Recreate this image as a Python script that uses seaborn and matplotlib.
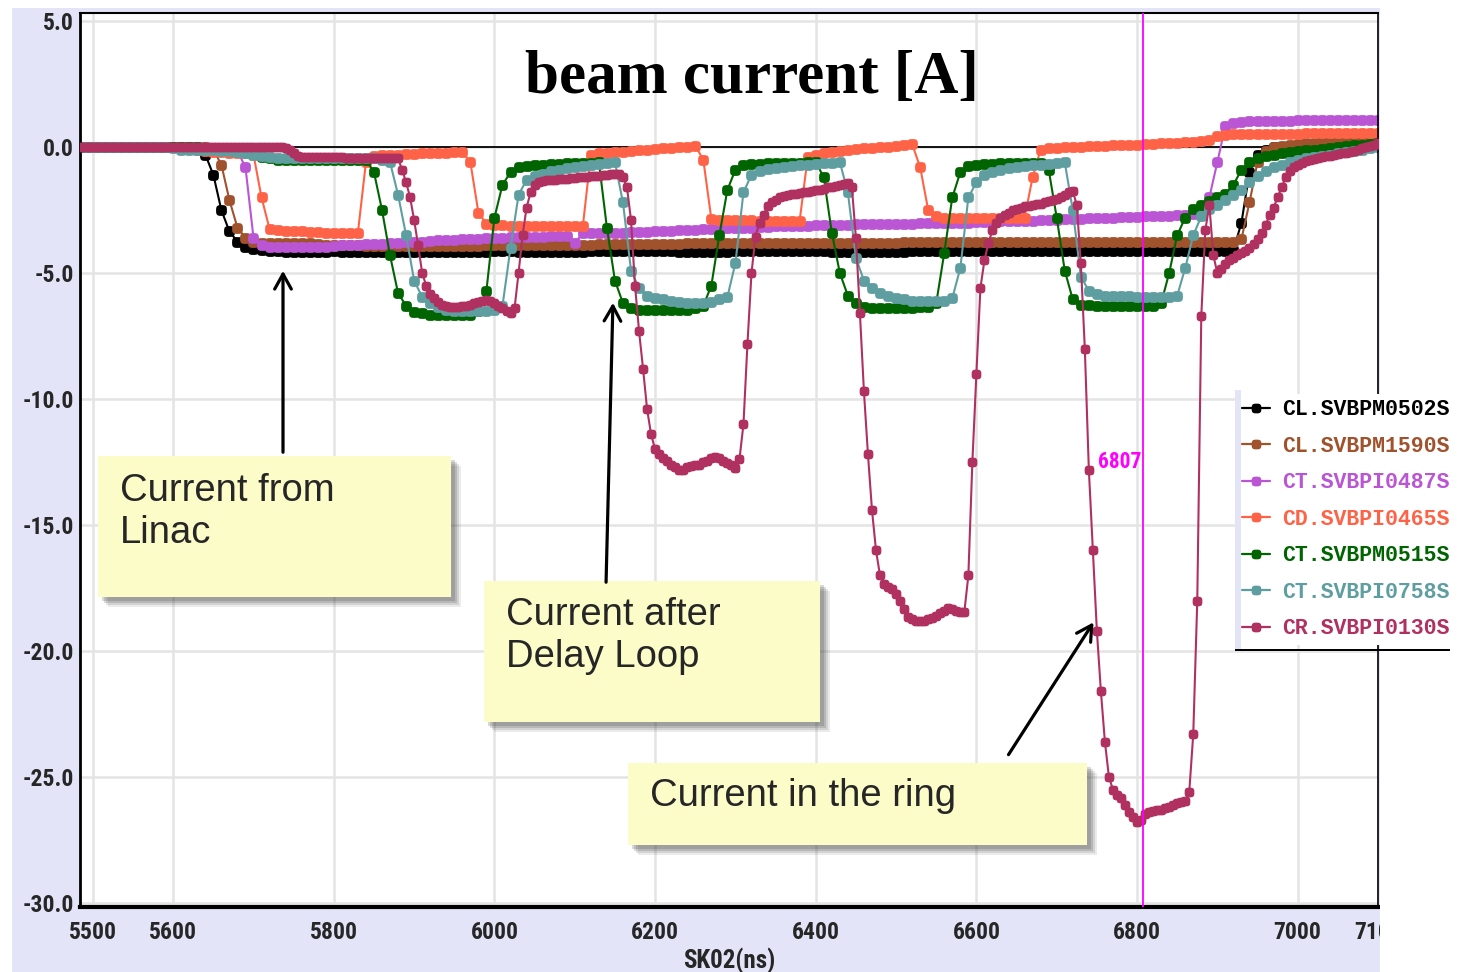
import numpy as np
import matplotlib
matplotlib.use("Agg")
import matplotlib.pyplot as plt
import seaborn as sns
from matplotlib.patches import Rectangle, FancyArrowPatch
from matplotlib.lines import Line2D
from matplotlib.path import Path
from matplotlib.ticker import FormatStrFormatter
from matplotlib.font_manager import FontProperties

# ---------------- data ----------------
t10 = np.arange(5480, 7101, 10)   # sample times (ns) for most monitors
t5 = np.arange(5480, 7101, 5)     # sample times (ns) for the ring monitor

labels = ["CL.SVBPM0502S", "CL.SVBPM1590S", "CT.SVBPI0487S", "CD.SVBPI0465S",
          "CT.SVBPM0515S", "CT.SVBPI0758S", "CR.SVBPI0130S"]
colors = ["#000000", "#a0522d", "#ba55d3", "#ff6347", "#006400", "#5f9ea0", "#b03060"]

cl_0502 = [
    0, 0, 0, 0, 0, 0, 0, 0, 0, 0,
    0, 0, 0, 0, 0, -0.05, -0.3, -1.1, -2.5, -3.35,
    -3.75, -3.98, -4.05, -4.1, -4.12, -4.12, -4.15, -4.15, -4.15, -4.15,
    -4.15, -4.15, -4.14, -4.15, -4.17, -4.15, -4.15, -4.15, -4.15, -4.17,
    -4.17, -4.15, -4.15, -4.15, -4.15, -4.15, -4.15, -4.15, -4.15, -4.15,
    -4.15, -4.15, -4.13, -4.13, -4.13, -4.15, -4.15, -4.15, -4.15, -4.15,
    -4.15, -4.15, -4.15, -4.15, -4.13, -4.13, -4.13, -4.13, -4.13, -4.13,
    -4.13, -4.13, -4.13, -4.13, -4.13, -4.15, -4.15, -4.15, -4.15, -4.15,
    -4.15, -4.15, -4.13, -4.12, -4.12, -4.12, -4.12, -4.12, -4.12, -4.12,
    -4.12, -4.12, -4.12, -4.12, -4.15, -4.15, -4.15, -4.15, -4.15, -4.15,
    -4.15, -4.15, -4.15, -4.15, -4.13, -4.13, -4.13, -4.13, -4.13, -4.13,
    -4.13, -4.13, -4.13, -4.12, -4.12, -4.12, -4.12, -4.12, -4.12, -4.12,
    -4.12, -4.12, -4.12, -4.12, -4.12, -4.12, -4.12, -4.12, -4.12, -4.12,
    -4.12, -4.12, -4.12, -4.12, -4.12, -4.12, -4.12, -4.12, -4.12, -4.12,
    -4.12, -4.12, -4.12, -4.12, -4.1, -3.0, -1.0, -0.3, -0.1, 0.0,
    0.0, 0.0, 0.02, 0.02, 0.03, 0.03, 0.05, 0.05, 0.05, 0.05,
    0.05, 0.05, 0.05]

cl_1590 = [
    0, 0, 0, 0, 0, 0, 0, 0, 0, 0,
    0, 0, 0, 0, 0, 0, 0, -0.1, -0.7, -2.1,
    -3.2, -3.6, -3.75, -3.8, -3.82, -3.82, -3.82, -3.82, -3.82, -3.82,
    -3.85, -3.88, -3.9, -3.9, -3.9, -3.9, -3.92, -3.92, -3.92, -3.92,
    -3.92, -3.92, -3.92, -3.92, -3.92, -3.92, -3.92, -3.92, -3.92, -3.92,
    -3.92, -3.9, -3.9, -3.9, -3.9, -3.9, -3.9, -3.9, -3.9, -3.9,
    -3.88, -3.88, -3.88, -3.87, -3.87, -3.86, -3.86, -3.85, -3.85, -3.85,
    -3.85, -3.85, -3.84, -3.84, -3.83, -3.83, -3.82, -3.82, -3.82, -3.82,
    -3.82, -3.8, -3.8, -3.8, -3.8, -3.8, -3.8, -3.8, -3.8, -3.8,
    -3.8, -3.8, -3.8, -3.8, -3.8, -3.8, -3.8, -3.8, -3.8, -3.8,
    -3.8, -3.8, -3.8, -3.78, -3.78, -3.78, -3.78, -3.78, -3.78, -3.78,
    -3.78, -3.78, -3.78, -3.78, -3.78, -3.78, -3.78, -3.78, -3.78, -3.78,
    -3.78, -3.78, -3.78, -3.78, -3.78, -3.78, -3.78, -3.78, -3.78, -3.78,
    -3.78, -3.78, -3.78, -3.78, -3.78, -3.78, -3.78, -3.78, -3.78, -3.78,
    -3.78, -3.78, -3.78, -3.78, -3.78, -3.65, -2.2, -0.6, -0.15, 0.0,
    0.05, 0.1, 0.12, 0.15, 0.18, 0.2, 0.22, 0.24, 0.25, 0.27,
    0.28, 0.3, 0.3]

ct_0487 = [
    0, 0, 0, 0, 0, 0, 0, 0, 0, 0,
    0, 0, 0, 0, 0, 0, -0.05, -0.05, -0.05, -0.1,
    -0.15, -0.8, -3.6, -3.9, -3.95, -3.97, -3.97, -3.97, -3.95, -3.95,
    -3.95, -3.95, -3.93, -3.9, -3.9, -3.88, -3.85, -3.85, -3.83, -3.82,
    -3.8, -3.78, -3.75, -3.75, -3.73, -3.7, -3.7, -3.68, -3.66, -3.65,
    -3.64, -3.62, -3.6, -3.6, -3.58, -3.58, -3.56, -3.55, -3.55, -3.53,
    -3.53, -3.52, -3.8, -3.42, -3.42, -3.42, -3.41, -3.4, -3.4, -3.38,
    -3.38, -3.37, -3.35, -3.33, -3.33, -3.3, -3.3, -3.28, -3.27, -3.25,
    -3.25, -3.23, -3.22, -3.2, -3.2, -3.18, -3.17, -3.15, -3.15, -3.13,
    -3.12, -3.12, -3.1, -3.1, -3.1, -3.08, -3.08, -3.07, -3.07, -3.06,
    -3.05, -3.05, -3.05, -3.05, -3.04, -3.03, -3.03, -3.02, -3.02, -3.0,
    -3.0, -3.0, -2.98, -2.97, -2.96, -2.95, -2.95, -2.94, -2.93, -2.92,
    -2.9, -2.9, -2.88, -2.86, -2.85, -2.84, -2.83, -2.82, -2.8, -2.8,
    -2.78, -2.77, -2.76, -2.75, -2.74, -2.73, -2.72, -2.7, -2.68, -2.67,
    -2.65, -2.0, -0.6, 0.85, 0.95, 1.0, 1.02, 1.03, 1.05, 1.05,
    1.05, 1.05, 1.07, 1.07, 1.08, 1.08, 1.08, 1.08, 1.08, 1.08,
    1.08, 1.08, 1.08]

cd_0465 = [
    0, 0, 0, 0, 0, 0, 0, 0, 0, 0,
    0, 0, 0, 0, -0.05, -0.1, -0.15, -0.2, -0.2, -0.25,
    -0.25, -0.25, -0.3, -2.0, -3.25, -3.3, -3.35, -3.35, -3.35, -3.38,
    -3.38, -3.4, -3.4, -3.4, -3.4, -3.4, -0.6, -0.35, -0.32, -0.3,
    -0.3, -0.28, -0.27, -0.25, -0.25, -0.23, -0.22, -0.2, -0.2, -0.6,
    -2.6, -3.05, -3.1, -3.1, -3.12, -3.12, -3.12, -3.15, -3.15, -3.15,
    -3.15, -3.15, -3.15, -3.15, -0.3, -0.25, -0.22, -0.2, -0.18, -0.15,
    -0.12, -0.1, -0.08, -0.05, -0.03, 0.0, 0.02, 0.05, -0.5, -2.85,
    -2.9, -2.9, -2.9, -2.9, -2.9, -2.92, -2.92, -2.92, -2.92, -2.92,
    -2.92, -0.4, -0.3, -0.25, -0.2, -0.15, -0.1, -0.08, -0.05, -0.02,
    0.0, 0.02, 0.05, 0.08, 0.12, -0.8, -2.5, -2.75, -2.8, -2.8,
    -2.8, -2.8, -2.8, -2.8, -2.82, -2.82, -2.82, -2.82, -2.8, -1.2,
    -0.1, -0.05, -0.03, 0.0, 0.0, 0.02, 0.03, 0.05, 0.05, 0.07,
    0.08, 0.1, 0.1, 0.12, 0.13, 0.15, 0.17, 0.18, 0.2, 0.22,
    0.24, 0.26, 0.45, 0.48, 0.5, 0.5, 0.5, 0.52, 0.52, 0.52,
    0.52, 0.53, 0.53, 0.54, 0.54, 0.55, 0.55, 0.55, 0.55, 0.55,
    0.55, 0.55, 0.55]

ct_0515 = [
    0, 0, 0, 0, 0, 0, 0, 0, 0, 0,
    0, 0, 0, 0, 0, 0, -0.05, -0.05, -0.1, -0.1,
    -0.15, -0.2, -0.25, -0.4, -0.45, -0.5, -0.5, -0.5, -0.5, -0.5,
    -0.5, -0.5, -0.5, -0.5, -0.5, -0.5, -0.5, -1.0, -2.5, -4.3,
    -5.8, -6.3, -6.55, -6.6, -6.65, -6.67, -6.67, -6.67, -6.65, -6.65,
    -6.5, -5.7, -2.8, -1.5, -1.0, -0.8, -0.75, -0.72, -0.7, -0.68,
    -0.67, -0.65, -0.65, -0.63, -0.62, -0.6, -3.2, -5.3, -6.2, -6.4,
    -6.45, -6.47, -6.47, -6.47, -6.47, -6.47, -6.45, -6.4, -6.3, -5.5,
    -3.5, -1.7, -0.9, -0.7, -0.68, -0.66, -0.65, -0.65, -0.64, -0.63,
    -0.62, -0.61, -0.6, -1.2, -3.4, -5.0, -5.9, -6.2, -6.35, -6.4,
    -6.4, -6.4, -6.4, -6.38, -6.38, -6.35, -6.35, -6.2, -4.2, -2.0,
    -1.0, -0.75, -0.7, -0.68, -0.66, -0.65, -0.65, -0.64, -0.63, -0.62,
    -0.62, -0.9, -2.8, -4.9, -6.05, -6.25, -6.28, -6.3, -6.3, -6.3,
    -6.3, -6.3, -6.32, -6.32, -6.3, -6.2, -5.0, -3.5, -2.8, -2.45,
    -2.3, -2.15, -2.0, -1.85, -1.5, -0.9, -0.6, -0.45, -0.35, -0.3,
    -0.25, -0.2, -0.17, -0.13, -0.1, -0.07, -0.04, 0.0, 0.04, 0.08,
    0.1, 0.12, 0.15]

ct_0758 = [
    0, 0, 0, 0, 0, 0, 0, 0, 0, 0,
    0, 0, -0.05, -0.1, -0.1, -0.1, -0.1, -0.1, -0.15, -0.15,
    -0.2, -0.25, -0.3, -0.35, -0.4, -0.45, -0.45, -0.45, -0.45, -0.45,
    -0.45, -0.45, -0.45, -0.45, -0.45, -0.45, -0.45, -0.45, -0.5, -0.6,
    -1.9, -3.5, -5.3, -5.95, -6.2, -6.35, -6.45, -6.5, -6.5, -6.5,
    -6.5, -6.5, -6.45, -6.3, -4.0, -1.9, -1.3, -1.15, -1.05, -0.95,
    -0.9, -0.85, -0.8, -0.75, -0.7, -0.66, -0.62, -0.6, -2.2, -4.9,
    -5.6, -5.9, -6.0, -6.05, -6.1, -6.15, -6.2, -6.2, -6.18, -6.15,
    -6.05, -5.95, -4.6, -1.8, -1.1, -0.95, -0.88, -0.82, -0.78, -0.75,
    -0.72, -0.7, -0.67, -0.65, -0.63, -0.6, -1.8, -4.4, -5.3, -5.6,
    -5.8, -5.9, -6.0, -6.05, -6.1, -6.1, -6.1, -6.1, -6.1, -6.0,
    -4.8, -2.0, -1.4, -1.1, -1.0, -0.9, -0.85, -0.8, -0.75, -0.72,
    -0.7, -0.66, -0.63, -0.6, -2.5, -5.15, -5.7, -5.85, -5.9, -5.9,
    -5.9, -5.92, -5.95, -5.95, -5.95, -5.95, -5.95, -5.9, -4.8, -3.5,
    -2.75, -2.45, -2.3, -2.1, -1.9, -1.7, -1.4, -1.15, -0.95, -0.8,
    -0.7, -0.58, -0.5, -0.45, -0.4, -0.35, -0.3, -0.25, -0.2, -0.15,
    -0.1, -0.05, 0.0]

cr_0130 = [
    0, 0, 0, 0, 0, 0, 0, 0, 0, 0, 0, 0, 0, 0, 0, 0, 0, 0, 0, 0,
    0, 0, 0, 0, 0, 0, 0, 0, 0, 0, 0, 0, 0, 0, 0, 0, 0, 0, 0, 0,
    0, 0, 0, 0, 0, 0, 0, 0, 0, 0, 0, 0, -0.05, -0.1, -0.25, -0.35, -0.4, -0.4, -0.4, -0.4,
    -0.4, -0.4, -0.4, -0.4, -0.4, -0.4, -0.4, -0.42, -0.42, -0.42,
    -0.42, -0.42, -0.42, -0.42, -0.42, -0.42, -0.42, -0.42, -0.42, -0.42,
    -0.45, -0.9, -1.4, -2.0, -2.9, -3.9, -5.0, -5.5, -5.85, -6.0,
    -6.15, -6.25, -6.3, -6.35, -6.35, -6.35, -6.3, -6.3, -6.25, -6.2,
    -6.15, -6.1, -6.07, -6.1, -6.2, -6.3, -6.4, -6.5, -6.6, -6.4,
    -5.0, -3.5, -2.4, -1.8, -1.5, -1.4, -1.35, -1.32, -1.3, -1.3,
    -1.28, -1.27, -1.25, -1.24, -1.22, -1.2, -1.2, -1.18, -1.16, -1.15,
    -1.13, -1.12, -1.1, -1.08, -1.05, -1.05, -1.2, -1.6, -2.9, -5.5,
    -7.3, -8.8, -10.4, -11.4, -12.0, -12.2, -12.35, -12.45, -12.6, -12.7,
    -12.8, -12.8, -12.7, -12.65, -12.6, -12.6, -12.5, -12.45, -12.35, -12.3,
    -12.35, -12.45, -12.55, -12.6, -12.75, -12.4, -11.0, -7.8, -5.0, -3.55,
    -3.0, -2.7, -2.35, -2.2, -2.1, -2.0, -1.95, -1.9, -1.88, -1.85,
    -1.83, -1.8, -1.78, -1.75, -1.72, -1.7, -1.65, -1.6, -1.58, -1.55,
    -1.5, -1.47, -1.43, -1.6, -3.6, -6.6, -9.7, -12.2, -14.4, -16.0,
    -17.0, -17.35, -17.45, -17.55, -17.75, -18.0, -18.35, -18.65, -18.75, -18.8,
    -18.8, -18.8, -18.75, -18.7, -18.6, -18.5, -18.4, -18.3, -18.35, -18.4,
    -18.45, -18.45, -17.0, -12.5, -9.0, -5.6, -4.5, -3.8, -3.3, -3.0,
    -2.8, -2.7, -2.6, -2.5, -2.45, -2.4, -2.35, -2.32, -2.3, -2.28,
    -2.25, -2.2, -2.15, -2.1, -2.05, -2.0, -1.9, -1.8, -1.75, -2.3,
    -4.6, -8.0, -12.8, -16.0, -19.2, -21.6, -23.6, -25.0, -25.5, -25.7,
    -25.85, -26.1, -26.4, -26.6, -26.8, -26.7, -26.45, -26.4, -26.35, -26.3,
    -26.3, -26.25, -26.2, -26.1, -26.05, -26.0, -25.95, -25.6, -23.3, -18.0,
    -6.7, -3.3, -2.3, -4.3, -5.0, -4.85, -4.65, -4.5, -4.4, -4.3,
    -4.2, -4.12, -4.0, -3.85, -3.65, -3.4, -3.1, -2.7, -2.4, -2.0,
    -1.6, -1.2, -0.95, -0.8, -0.7, -0.62, -0.55, -0.5, -0.47, -0.44,
    -0.4, -0.37, -0.34, -0.31, -0.28, -0.25, -0.22, -0.18, -0.14, -0.1,
    -0.05, 0.0, 0.05, 0.1, 0.15]

series_values = [cl_0502, cl_1590, ct_0487, cd_0465, ct_0515, ct_0758, cr_0130]
series_times = [t10, t10, t10, t10, t10, t10, t5]

xticks = [5500, 5600, 5800, 6000, 6200, 6400, 6600, 6800, 7000, 7100]
yticks = [5, 0, -5, -10, -15, -20, -25, -30]
cursor_t = 6807
cursor_label = "6807"
title = "beam current [A]"
xlabel = "SK02(ns)"
notes = ["Current from\nLinac", "Current after\nDelay Loop", "Current in the ring"]

# ---------------- figure ----------------
sns.set_style("white")
plt.rcParams["font.family"] = ["DejaVu Sans"]
plt.rcParams["axes.unicode_minus"] = False

W, H = 1463, 972
fig = plt.figure(figsize=(W / 100, H / 100), dpi=100)
fig.patch.set_facecolor("white")

def FX(x):
    return x / W

def FY(y):
    return 1 - y / H

NARROW = ["Roboto Condensed", "Roboto", "DejaVu Sans"]

# blocky round marker (like the pixel dots of the original scope display)
_th = np.linspace(0, 2 * np.pi, 49)
_c, _s = np.cos(_th), np.sin(_th)
BLOB = Path(np.column_stack([np.sign(_c) * np.abs(_c) ** (2 / 3.2),
                             np.sign(_s) * np.abs(_s) ** (2 / 3.2)]), closed=True)

# lavender panel behind the chart
fig.patches.append(Rectangle((FX(12), 0), (1380 - 12) / W, (H - 8) / H,
                             transform=fig.transFigure, facecolor="#e4e4f8",
                             edgecolor="none", zorder=-10))

ax = fig.add_axes([FX(80), FY(907), (1378 - 80) / W, (907 - 13) / H])
ax.set_facecolor("white")
ax.set_xlim(5484, 7097)
ax.set_ylim(-30.16, 5.32)

ax.set_xticks(xticks)
ax.set_yticks(yticks)
ax.yaxis.set_major_formatter(FormatStrFormatter("%.1f"))
ax.grid(True, color="#e4e4e4", lw=1.8)
ax.set_axisbelow(True)

tick_font = FontProperties(family=NARROW, weight="bold", size=17)
for lab in ax.get_xticklabels() + ax.get_yticklabels():
    lab.set_fontproperties(tick_font)
ax.tick_params(axis="y", length=4, width=1.5, pad=0.5, color="black")
ax.tick_params(axis="x", length=5, width=1.5, pad=5, color="black")

for side, lw in [("left", 2.0), ("bottom", 3.0), ("top", 1.5), ("right", 1.2)]:
    ax.spines[side].set_visible(True)
    ax.spines[side].set_color("black")
    ax.spines[side].set_linewidth(lw)

ax.axhline(0, color="black", lw=1.3, zorder=1.5)

for i, (lab, col, tt, vv) in enumerate(zip(labels, colors, series_times, series_values)):
    ms = 7.0 if tt is t5 else 7.8
    sns.lineplot(x=tt, y=vv, color=col, marker=BLOB, markersize=ms,
                 markeredgewidth=0, linewidth=1.5, estimator=None, sort=False,
                 ax=ax, legend=False, zorder=2 + i * 0.1)

ax.set_xlabel("")
ax.set_ylabel("")

ax.axvline(cursor_t, color="#ff00ff", lw=1.3, zorder=10)
ax.text(cursor_t - 2, -12.5, cursor_label, color="#ff00ff", ha="right", va="center",
        fontproperties=FontProperties(family=NARROW, weight="bold", size=15.5), zorder=10)

fig.text(FX(752), FY(93), title, ha="center", va="baseline",
         fontsize=44, fontweight="bold", family=["Liberation Serif", "DejaVu Serif"],
         color="black")

fig.text(FX(729), FY(961), xlabel, ha="center", va="center",
         fontproperties=FontProperties(family=NARROW, weight="bold", size=18))

# white area right of the panel (clips the last tick label like the original)
fig.patches.append(Rectangle((FX(1380), 0), (W - 1380) / W, 1, transform=fig.transFigure,
                             facecolor="white", edgecolor="none", zorder=1))

# annotation boxes with shadows
boxes = [((98, 456, 451, 597), (120, 473)),
         ((484, 581, 820, 722), (506, 597)),
         ((628, 763, 1087, 845), (650, 778))]
for ((x0, y0, x1, y1), (tx, ty)), txt in zip(boxes, notes):
    for d, a in [(10, 0.10), (8, 0.14), (6, 0.18), (4, 0.2)]:
        fig.patches.append(Rectangle((FX(x0 + d), FY(y1 + d)), (x1 - x0) / W, (y1 - y0) / H,
                                     transform=fig.transFigure, facecolor="#404040",
                                     edgecolor="none", alpha=a, zorder=3))
    fig.patches.append(Rectangle((FX(x0), FY(y1)), (x1 - x0) / W, (y1 - y0) / H,
                                 transform=fig.transFigure, facecolor="#fcfcc8",
                                 edgecolor="none", zorder=3.1))
    fig.text(FX(tx), FY(ty), txt, ha="left", va="top", fontsize=27.5,
             family=["Liberation Sans", "DejaVu Sans"], linespacing=1.22, zorder=3.2)

arrows = [((283, 455), (283, 268)), ((606, 585), (613, 300)), ((1007, 757), (1095, 620))]
for (xa, ya), (xb, yb) in arrows:
    fig.patches.append(FancyArrowPatch((FX(xa), FY(ya)), (FX(xb), FY(yb)),
                                       transform=fig.transFigure,
                                       arrowstyle="->,head_length=0.45,head_width=0.25",
                                       mutation_scale=24, lw=2.3, color="black", zorder=3.3))

# legend
handles = [Line2D([0], [0], color=c, marker=BLOB, markersize=7, markeredgewidth=0, lw=1.6)
           for c in colors]
leg = fig.legend(handles, labels, loc="upper left",
                 bbox_to_anchor=(FX(1237), FY(394)), bbox_transform=fig.transFigure,
                 prop=FontProperties(family=["Liberation Mono", "DejaVu Sans Mono"],
                                     weight="bold", size=15.5),
                 handlelength=1.3, handletextpad=0.55, labelspacing=0.72,
                 borderaxespad=0, borderpad=0.25, frameon=True, fancybox=False)
leg.get_frame().set_facecolor("white")
leg.get_frame().set_edgecolor("none")
leg.get_frame().set_alpha(1)
leg.set_zorder(6)
for txt, c in zip(leg.get_texts(), colors):
    txt.set_color(c)
fig.patches.append(Rectangle((FX(1235), FY(650)), 6 / W, 260 / H, transform=fig.transFigure,
                             facecolor="#e4e4f8", edgecolor="none", zorder=7))
fig.patches.append(Rectangle((FX(1235), FY(651)), 215 / W, 2.5 / H, transform=fig.transFigure,
                             facecolor="black", edgecolor="none", zorder=7))

fig.savefig("out.png", dpi=100)
